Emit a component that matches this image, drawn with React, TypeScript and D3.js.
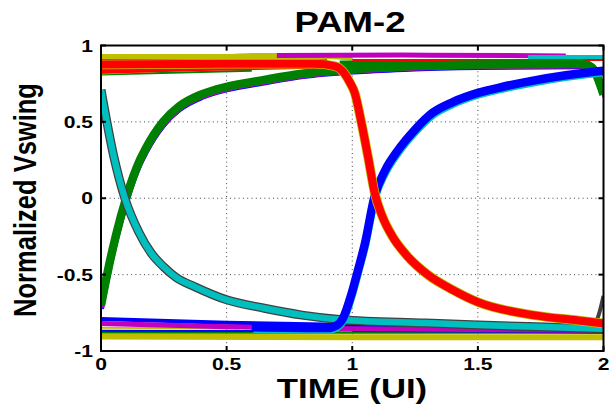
import React from "react";
import * as d3 from "d3";

type P = [number, number];

// ---- axis data ----
const xTicks = [0, 0.5, 1, 1.5, 2];
const xTickLabels = ["0", "0.5", "1", "1.5", "2"];
const yTicks = [-1, -0.5, 0, 0.5, 1];
const yTickLabels = ["-1", "-0.5", "0", "0.5", "1"];
const titleText = "PAM-2";
const xLabelText = "TIME (UI)";
const yLabelText = "Normalized Vswing";

// ---- trace data (time in UI, normalized voltage) ----
const yellowLow: P[] = [[0, -0.905], [1, -0.91], [2, -0.91]];
const greenLow: P[] = [[0, -0.878], [1, -0.879], [2, -0.88]];
const blueLowFlat: P[] = [[0, -0.868], [0.9, -0.87]];
const yellowLowThin: P[] = [[0, -0.848], [0.55, -0.852]];
const blueSlope: P[] = [[0, -0.79], [0.5, -0.815], [1, -0.83], [2, -0.845]];
const magentaSlope: P[] = [[0, -0.82], [0.5, -0.842], [1, -0.855], [2, -0.865]];
const blueLowRight: P[] = [[1, -0.868], [2, -0.875]];

const yellowTop: P[] = [[0, 0.925], [0.5, 0.925], [0.6, 0.932], [0.9, 0.932], [1.0, 0.92]];
const greenTopThin: P[] = [[0, 0.81], [0.6, 0.835]];
const yellowRedEdge: P[] = [[0, 0.82], [0.35, 0.845], [0.65, 0.86], [0.95, 0.868]];
const redSlope: P[] = [[0, 0.838], [0.4, 0.856], [0.9, 0.872]];
const redMid: P[] = [[0, 0.862], [0.5, 0.872], [0.9, 0.878]];
const redFlat: P[] = [[0, 0.888], [0.5, 0.889], [0.9, 0.888]];
const magentaTopThin: P[] = [[0, 0.9], [0.6, 0.9]];
const cyanTopShort: P[] = [[0.4, 0.905], [0.52, 0.905]];
const magentaTop: P[] = [[0.7, 0.935], [1.2, 0.937], [1.85, 0.932]];
const cyanTop: P[] = [[1.7, 0.925], [2, 0.925]];
const redTopThin: P[] = [[1, 0.905], [2, 0.905]];
const greenTopBand: P[] = [[0.95, 0.875], [1.5, 0.882], [1.92, 0.882], [1.96, 0.845], [2, 0.68]];

const greenRise: P[] = [
  [0, -0.7], [0.028, -0.47], [0.06, -0.24], [0.1, 0.0], [0.155, 0.25], [0.175, 0.316],
  [0.247, 0.5], [0.31, 0.6], [0.4, 0.68], [0.5, 0.73], [0.65, 0.775], [0.8, 0.815],
  [1.0, 0.845], [1.2, 0.862], [1.5, 0.875], [1.9, 0.88], [1.95, 0.86], [2.0, 0.68],
];
const cyanFall: P[] = [
  [0, 0.71], [0.05, 0.28], [0.095, 0.0], [0.15, -0.22], [0.2, -0.36], [0.25, -0.45],
  [0.3, -0.52], [0.374, -0.58], [0.5, -0.665], [0.65, -0.72], [0.8, -0.765],
  [0.96, -0.795], [1.29, -0.817], [1.5, -0.83], [1.8, -0.845], [2.0, -0.855],
];
const redFall: P[] = [
  [0, 0.875], [0.5, 0.88], [0.85, 0.88], [0.93, 0.865], [0.96, 0.835], [0.99, 0.76],
  [1.01, 0.69], [1.037, 0.49], [1.063, 0.27], [1.09, 0.03], [1.12, -0.12], [1.16, -0.25],
  [1.22, -0.38], [1.3, -0.5], [1.4, -0.6], [1.5, -0.68], [1.72, -0.765], [1.9, -0.8],
  [2.0, -0.82],
];
const blueRise: P[] = [
  [0.6, -0.845], [0.9, -0.85], [0.94, -0.83], [0.963, -0.785], [0.998, -0.62],
  [1.023, -0.47], [1.05, -0.3], [1.09, 0.02], [1.13, 0.18], [1.18, 0.31], [1.25, 0.45],
  [1.32, 0.56], [1.4, 0.63], [1.5, 0.69], [1.6, 0.73], [1.72, 0.77], [1.85, 0.805],
  [1.97, 0.83], [2.0, 0.835],
];
const grayEdgeRise: P[] = [[1.95, -0.83], [1.975, -0.79], [2.0, -0.64]];

// ---- colours ----
const C = {
  b: "#0000ff",
  g: "#008000",
  r: "#ff0000",
  c: "#00bfbf",
  m: "#bf00bf",
  y: "#bfbf00",
  k: "#404040",
};

const W = 610;
const H = 412;
const left = 101;
const right = 603.5;
const top = 45.5;
const bottom = 351;
const SX = 1.24;
const FONT = "'Liberation Sans', Arial, Helvetica, sans-serif";

export default function App() {
  const x = d3.scaleLinear().domain([0, 2]).range([left, right]);
  const y = d3.scaleLinear().domain([-1, 1]).range([bottom, top]);
  const line = d3
    .line<P>()
    .x((d) => x(d[0]))
    .y((d) => y(d[1]))
    .curve(d3.curveMonotoneX);

  const off = (pts: P[], dt: number, dv: number): P[] => pts.map((p) => [p[0] + dt, p[1] + dv] as P);

  const traces: { pts: P[]; color: string; w: number }[] = [
    { pts: yellowLow, color: C.y, w: 6 },
    { pts: greenLow, color: C.g, w: 2.5 },
    { pts: blueLowFlat, color: C.b, w: 2 },
    { pts: yellowLowThin, color: C.y, w: 2 },
    { pts: blueLowRight, color: C.b, w: 2.5 },
    { pts: blueSlope, color: C.b, w: 4 },
    { pts: magentaSlope, color: C.m, w: 5 },
    { pts: greenTopThin, color: C.g, w: 2 },
    { pts: yellowTop, color: C.y, w: 6 },
    { pts: magentaTop, color: C.m, w: 5 },
    { pts: cyanTop, color: C.c, w: 4 },
    { pts: greenTopBand, color: C.g, w: 8 },
    { pts: redTopThin, color: C.r, w: 2 },
    { pts: off(greenRise, 0.006, -0.025), color: C.b, w: 3 },
    { pts: off(greenRise, 0.004, -0.018), color: C.m, w: 4 },
    { pts: greenRise, color: C.g, w: 8.5 },
    { pts: cyanFall, color: C.k, w: 9 },
    { pts: cyanFall, color: C.c, w: 6.5 },
    { pts: grayEdgeRise, color: C.k, w: 4 },
    { pts: yellowRedEdge, color: C.y, w: 3 },
    { pts: redSlope, color: C.r, w: 7 },
    { pts: redMid, color: C.r, w: 7 },
    { pts: redFlat, color: C.r, w: 7 },
    { pts: magentaTopThin, color: C.m, w: 2 },
    { pts: cyanTopShort, color: C.c, w: 2 },
    { pts: off(blueRise, 0.006, -0.02), color: C.c, w: 5 },
    { pts: blueRise, color: C.b, w: 8.5 },
    { pts: redFall, color: C.y, w: 9.5 },
    { pts: redFall, color: C.r, w: 8 },
  ];

  return (
    <svg
      width={W}
      height={H}
      style={{ position: "absolute", left: 0, top: 0, background: "#fff" }}
      fontFamily={FONT}
    >
      <defs>
        <clipPath id="plot">
          <rect x={left} y={top} width={right - left} height={bottom - top} />
        </clipPath>
      </defs>
      <rect x={0} y={0} width={W} height={H} fill="#fff" />
      {/* grid */}
      <g stroke="#444" strokeWidth={1} strokeDasharray="1 3.3">
        {xTicks.slice(1, -1).map((t) => (
          <line key={"gx" + t} x1={x(t)} x2={x(t)} y1={top} y2={bottom} />
        ))}
        {yTicks.slice(1, -1).map((t) => (
          <line key={"gy" + t} x1={left} x2={right} y1={y(t)} y2={y(t)} />
        ))}
      </g>
      {/* traces */}
      <g clipPath="url(#plot)" fill="none" strokeLinecap="butt" strokeLinejoin="round">
        {traces.map((tr, i) => (
          <path key={i} d={line(tr.pts) || ""} stroke={tr.color} strokeWidth={tr.w} />
        ))}
      </g>
      {/* axes box and ticks */}
      <g stroke="#000" strokeWidth={2}>
        <rect x={left} y={top} width={right - left} height={bottom - top} fill="none" />
        {xTicks.map((t) => (
          <g key={"tx" + t}>
            <line x1={x(t)} x2={x(t)} y1={bottom} y2={bottom - 5} />
            <line x1={x(t)} x2={x(t)} y1={top} y2={top + 5} />
          </g>
        ))}
        {yTicks.map((t) => (
          <g key={"ty" + t}>
            <line x1={left} x2={left + 5} y1={y(t)} y2={y(t)} />
            <line x1={right} x2={right - 5} y1={y(t)} y2={y(t)} />
          </g>
        ))}
      </g>
      {/* tick labels */}
      <g fontWeight="bold" fontSize={17} fill="#000">
        {xTicks.map((t, i) => (
          <text key={"lx" + t} transform={`translate(${x(t)},370) scale(${SX},1)`} textAnchor="middle">
            {xTickLabels[i]}
          </text>
        ))}
        {yTicks.map((t, i) => (
          <text key={"ly" + t} transform={`translate(93,${y(t) + 6}) scale(${SX},1)`} textAnchor="end">
            {yTickLabels[i]}
          </text>
        ))}
      </g>
      {/* titles */}
      <text
        transform={`translate(350,31.5) scale(${SX},1)`}
        textAnchor="middle"
        fontWeight="bold"
        fontSize={29.5}
      >
        {titleText}
      </text>
      <text
        transform={`translate(352,398) scale(${SX},1)`}
        textAnchor="middle"
        fontWeight="bold"
        fontSize={28}
      >
        {xLabelText}
      </text>
      <text
        transform={`translate(36,200) scale(${SX},1) rotate(-90)`}
        textAnchor="middle"
        fontWeight="bold"
        fontSize={25.5}
      >
        {yLabelText}
      </text>
    </svg>
  );
}
